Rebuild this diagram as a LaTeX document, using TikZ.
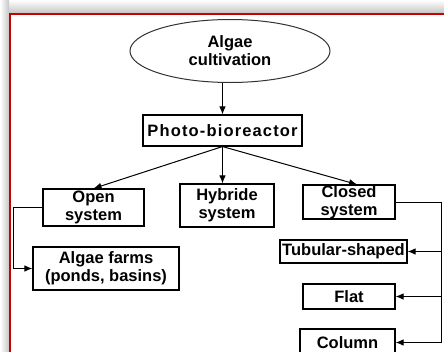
\documentclass[tikz,border=0pt]{standalone}
\usepackage{fontspec}
\setmainfont{Liberation Sans}
\usetikzlibrary{shapes.geometric}
\usetikzlibrary{arrows.meta}
\definecolor{framered}{RGB}{200,0,0}

\tikzset{
  box/.style={draw, line width=1.1pt, align=center, inner sep=0pt},
  arr/.style={-{Latex[length=8pt,width=6.5pt]}, line width=1pt},
  plain/.style={line width=1pt}
}

\begin{document}
\begin{tikzpicture}[x=1pt, y=-1pt, font=\fontsize{16.5}{18}\selectfont\bfseries]
    \useasboundingbox (0,0) rectangle (444,351);
    \clip (0,0) rectangle (444,351);

    % shadow and frame
    \shade[top color=white, bottom color=gray!45] (0,0) rectangle (444,13);
    \shade[left color=white, right color=gray!45] (0,0) rectangle (9,351);
    \fill[white] (9,13) rectangle (450,360);
    \draw[framered, line width=2.2pt] (10,14) rectangle (452,362);

    % top of the tree
    \node[draw=gray!40!black, line width=1pt, ellipse, minimum width=200pt, minimum height=63pt, inner sep=0pt, align=center] (cult) at (230,51) {Algae\\cultivation};
    \node[box, minimum width=159pt, minimum height=31pt] (photo) at (222.5,130.5) {\addfontfeature{LetterSpace=7}Photo-bioreactor};

    % three kinds of systems
    \node[box, minimum width=101pt, minimum height=37pt] (open) at (93.5,207.5) {Open\\system};
    \node[box, minimum width=94pt, minimum height=43pt] (hybr) at (227,205.5) {Hybride\\system};
    \node[box, minimum width=92pt, minimum height=34pt] (closed) at (349,202) {Closed\\system};

    % sub-types
    \node[box, minimum width=146pt, minimum height=43pt] (farms) at (106,268.5) {Algae farms\\(ponds, basins)};
    \node[box, minimum width=127pt, minimum height=23pt] (tub) at (343.5,251.5) {Tubular-shaped};
    \node[box, minimum width=92pt, minimum height=25pt] (flat) at (349,296.5) {Flat};
    \node[box, minimum width=95pt, minimum height=27pt] (column) at (347.5,342.5) {Column};

    % connectors
    \draw[arr] (cult.south -| photo.north) -- (photo.north);
    \draw[arr] (photo.south) -- (open.north);
    \draw[arr] (photo.south) -- (photo.south |- hybr.north);
    \draw[arr] (photo.south) -- ([xshift=8pt]closed.north);
    \draw[arr] (open.west) -- ++(-29,0) |- (farms.west);

    \coordinate (bus) at (441,0);
    \draw[arr] (closed.east) -| (bus |- column.east) -- (column.east);
    \draw[arr] (bus |- tub.east) -- (tub.east);
    \draw[arr] (bus |- flat.east) -- (flat.east);
\end{tikzpicture}
\end{document}
